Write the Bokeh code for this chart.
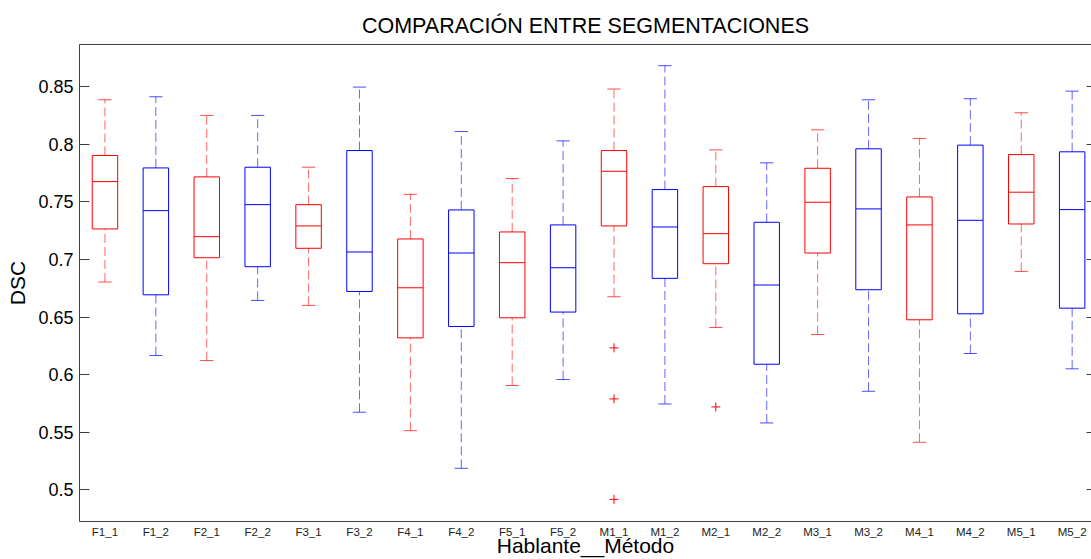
from bokeh.plotting import figure
from bokeh.models import Range1d, FixedTicker, LinearAxis, ColumnDataSource, CustomLabelingPolicy
from bokeh.embed import file_html
from bokeh.resources import INLINE

# ---- data ----
categories = ["F1_1", "F1_2", "F2_1", "F2_2", "F3_1", "F3_2", "F4_1", "F4_2", "F5_1", "F5_2",
              "M1_1", "M1_2", "M2_1", "M2_2", "M3_1", "M3_2", "M4_1", "M4_2", "M5_1", "M5_2"]
whisker_low = [0.6804, 0.6166, 0.6122, 0.6644, 0.6601, 0.5673, 0.5513, 0.5186, 0.5905, 0.5957,
               0.6676, 0.5745, 0.6409, 0.5580, 0.6348, 0.5855, 0.5412, 0.6183, 0.6896, 0.6050]
q1 = [0.7265, 0.6693, 0.7015, 0.6937, 0.7097, 0.6722, 0.6319, 0.6418, 0.6493, 0.6543,
      0.7291, 0.6836, 0.6963, 0.6090, 0.7056, 0.6737, 0.6476, 0.6528, 0.7308, 0.6577]
median = [0.7676, 0.7424, 0.7198, 0.7476, 0.7291, 0.7065, 0.6754, 0.7056, 0.6972, 0.6928,
          0.7766, 0.7282, 0.7224, 0.6778, 0.7497, 0.7439, 0.7300, 0.7340, 0.7584, 0.7433]
q3 = [0.7903, 0.7795, 0.7717, 0.7801, 0.7476, 0.7946, 0.7178, 0.7430, 0.7239, 0.7300,
      0.7946, 0.7607, 0.7633, 0.7323, 0.7792, 0.7961, 0.7543, 0.7993, 0.7911, 0.7935]
whisker_high = [0.8387, 0.8413, 0.8251, 0.8251, 0.7801, 0.8497, 0.7566, 0.8111, 0.7703, 0.8030,
                0.8480, 0.8683, 0.7952, 0.7839, 0.8126, 0.8387, 0.8051, 0.8396, 0.8274, 0.8462]
outlier_cat = ["M1_1", "M1_1", "M1_1", "M2_1"]
outlier_val = [0.6232, 0.5789, 0.4916, 0.5719]
y_ticks = [0.5, 0.55, 0.6, 0.65, 0.7, 0.75, 0.8, 0.85]
y_tick_labels = ["0.5", "0.55", "0.6", "0.65", "0.7", "0.75", "0.8", "0.85"]

RED = "#ff0000"
BLUE = "#0000ff"
FONT = "Liberation Sans"
AXIS_COLOR = "#404040"

pos = list(range(1, len(categories) + 1))
colors = [RED if c.endswith("_1") else BLUE for c in categories]
box_half = 0.25
cap_half = 0.13

src = ColumnDataSource(dict(
    x=pos, x0=[p_ - box_half for p_ in pos], x1=[p_ + box_half for p_ in pos],
    c0=[p_ - cap_half for p_ in pos], c1=[p_ + cap_half for p_ in pos],
    lo=whisker_low, q1=q1, med=median, q3=q3, hi=whisker_high, color=colors,
))
out_src = ColumnDataSource(dict(
    x=[categories.index(c) + 1 for c in outlier_cat], y=outlier_val,
    color=[RED if c.endswith("_1") else BLUE for c in outlier_cat],
))

p = figure(width=1091, height=559, output_backend="svg", toolbar_location=None,
           x_range=Range1d(0.5, 20.38), y_range=Range1d(0.4724, 0.8867),
           min_border_left=79, min_border_right=0, min_border_top=44, min_border_bottom=38,
           background_fill_color="white", border_fill_color="white")
p.outline_line_color = None
p.xgrid.visible = False
p.ygrid.visible = False

# title
p.title.text = "COMPARACIÓN ENTRE SEGMENTACIONES"
p.title.align = "center"
p.title.text_font = FONT
p.title.text_font_size = "21.5px"
p.title.text_font_style = "normal"
p.title.text_color = "black"
p.title.standoff = 14

# whiskers (dashed)
p.segment(x0="x", y0="q3", x1="x", y1="hi", source=src, line_color="color",
          line_dash="9 4", line_width=1, line_alpha=0.6)
p.segment(x0="x", y0="lo", x1="x", y1="q1", source=src, line_color="color",
          line_dash="9 4", line_width=1, line_alpha=0.6)
# caps
p.segment(x0="c0", y0="hi", x1="c1", y1="hi", source=src, line_color="color", line_alpha=0.7)
p.segment(x0="c0", y0="lo", x1="c1", y1="lo", source=src, line_color="color", line_alpha=0.7)
# boxes
p.quad(left="x0", right="x1", bottom="q1", top="q3", source=src,
       fill_color=None, line_color="color", line_width=1)
# medians
p.segment(x0="x0", y0="med", x1="x1", y1="med", source=src, line_color="color", line_width=1)
# outliers
p.scatter(x="x", y="y", source=out_src, marker="cross", size=9, line_color="color", line_width=1)

# left axis
ya = p.yaxis[0]
ya.ticker = FixedTicker(ticks=y_ticks)
ya.major_label_overrides = {t: l for t, l in zip(y_ticks, y_tick_labels)}
ya.major_tick_in = 10
ya.major_tick_out = 0
ya.minor_tick_line_color = None
ya.major_label_standoff = 6
ya.major_label_text_font = FONT
ya.major_label_text_font_size = "18px"
ya.major_label_text_color = "black"
ya.axis_line_color = AXIS_COLOR
ya.major_tick_line_color = AXIS_COLOR
ya.axis_label = "DSC"
ya.axis_label_text_font = FONT
ya.axis_label_text_font_size = "21px"
ya.axis_label_text_font_style = "normal"
ya.axis_label_text_color = "black"
ya.axis_label_standoff = 6

# bottom axis
xa = p.xaxis[0]
xa.ticker = FixedTicker(ticks=pos)
xa.major_label_overrides = {p_: c for p_, c in zip(pos, categories)}
xa.major_tick_in = 0
xa.major_tick_out = 0
xa.minor_tick_line_color = None
xa.major_tick_line_color = None
xa.major_label_standoff = 4
xa.major_label_text_font = FONT
xa.major_label_text_font_size = "11.5px"
xa.major_label_text_color = "#222222"
xa.axis_line_color = AXIS_COLOR
xa.axis_label = "Hablante__Método"
xa.axis_label_text_font = FONT
xa.axis_label_text_font_size = "21px"
xa.axis_label_text_font_style = "normal"
xa.axis_label_text_color = "black"
xa.axis_label_standoff = -7

# top axis (frame line only)
top = LinearAxis(ticker=FixedTicker(ticks=[]), major_tick_in=0, major_tick_out=0,
                 minor_tick_line_color=None, major_label_text_font_size="0px",
                 major_label_standoff=0, axis_line_color=AXIS_COLOR,
                 major_label_policy=CustomLabelingPolicy(code="return []"))
p.add_layout(top, "above")

# right axis (inward ticks only; frame edge lies at the window edge)
right = LinearAxis(ticker=FixedTicker(ticks=y_ticks), major_tick_in=5, major_tick_out=0,
                   minor_tick_line_color=None, major_label_text_font_size="0px",
                   major_label_standoff=0, axis_line_color=None,
                   major_tick_line_color=AXIS_COLOR,
                   major_label_policy=CustomLabelingPolicy(code="return []"))
p.add_layout(right, "right")

open("out.html", "w").write(file_html(p, INLINE))
